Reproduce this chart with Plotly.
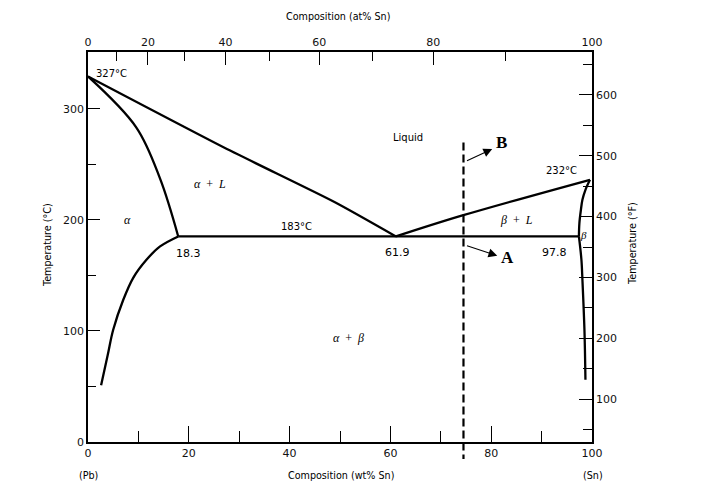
import plotly.graph_objects as go

# ---------------- data ----------------
# left liquidus (wt% Sn, °C)
liq_left_wt = [0, 28.1, 48.9, 61.1]
liq_left_T = [329, 262.5, 216, 185]
# right liquidus
liq_right_wt = [61.1, 74.3, 99.6]
liq_right_T = [185, 203.9, 236]
# alpha solidus
sol_a_wt = [0, 9.6, 14.3, 17.9]
sol_a_T = [329, 283, 237, 185]
# alpha solvus
svs_a_wt = [17.9, 14.3, 11.6, 9.0, 7.0, 5.0, 3.9, 2.6]
svs_a_T = [185, 176, 164, 148, 128, 101, 78, 51]
# eutectic isotherm
eut_wt = [17.9, 97.4]
eut_T = [185, 185]
# beta solidus
sol_b_wt = [99.6, 98.7, 98.1, 97.8, 97.5, 97.4]
sol_b_T = [236, 227, 218, 209, 197, 185]
# beta solvus
svs_b_wt = [97.4, 97.9, 98.1, 98.5, 98.7]
svs_b_T = [185, 164, 146, 101, 56]
# dashed composition line (wt% Sn, °C top/bottom)
dash_wt = 74.5
dash_T = [269.6, -15.3]
# arrows: (tail wt, tail T, head wt, head T)
arrow_B = [74.9, 252.5, 80.2, 263.7]
arrow_A = [74.9, 177.0, 81.2, 167.6]

# axes
y_range_C = [0, 351]
y_range_F = [29.3, 670.7]
x_range = [0, 100]
wt_major = [0, 20, 40, 60, 80, 100]
wt_minor = [10, 30, 50, 70, 90]
C_major = [0, 100, 200, 300]
C_minor = [50, 150, 250]
F_major = [100, 200, 300, 400, 500, 600]
F_minor = [50, 150, 250, 350, 450, 550, 650]
at_major_pos = [0, 11.9, 27.3, 45.9, 68.5, 100]
at_major_text = ["0", "20", "40", "60", "80", "100"]
at_minor_pos = [5.6, 19.1, 36.1, 56.5, 82.9]

# text labels: (text, wt, T, anchor, size, family)
labels = [
    ("327°C", 1.2, 331.5, "left", 10, "sans"),
    ("Liquid", 63.4, 274, "center", 10, "sans"),
    ("232°C", 93.9, 244, "center", 10, "sans"),
    ("183°C", 41.4, 193.7, "center", 10, "sans"),
    ("18.3", 20.0, 169.4, "center", 11, "sans"),
    ("61.9", 61.4, 170.3, "center", 11, "sans"),
    ("97.8", 92.5, 171.0, "center", 11, "sans"),
    ("<i>α</i>", 7.9, 200, "center", 12, "serif"),
    ("<i>α</i>&nbsp; +&nbsp; <i>L</i>", 24.2, 232.4, "center", 12, "serif"),
    ("<i>β</i>&nbsp; +&nbsp; <i>L</i>", 85.0, 200, "center", 12, "serif"),
    ("<i>α</i>&nbsp; +&nbsp; <i>β</i>", 51.7, 93.7, "center", 12, "serif"),
    ("<i>β</i>", 98.4, 186.5, "center", 11, "serif"),
    ("<b>B</b>", 82.0, 269.4, "center", 17, "serif"),
    ("<b>A</b>", 83.2, 165.8, "center", 17, "serif"),
]

SANS = "DejaVu Sans"
SERIF = "Liberation Serif"
LW = 2.3

fig = go.Figure()
line = dict(color="black", width=LW)
curve = dict(color="black", width=LW, shape="spline", smoothing=1.0)
gentle = dict(color="black", width=LW, shape="spline", smoothing=0.6)
fig.add_trace(go.Scatter(x=liq_left_wt, y=liq_left_T, mode="lines", line=gentle))
fig.add_trace(go.Scatter(x=liq_right_wt, y=liq_right_T, mode="lines", line=curve))
fig.add_trace(go.Scatter(x=sol_a_wt, y=sol_a_T, mode="lines", line=curve))
fig.add_trace(go.Scatter(x=svs_a_wt, y=svs_a_T, mode="lines", line=curve))
fig.add_trace(go.Scatter(x=eut_wt, y=eut_T, mode="lines", line=line))
fig.add_trace(go.Scatter(x=sol_b_wt, y=sol_b_T, mode="lines", line=curve))
fig.add_trace(go.Scatter(x=svs_b_wt, y=svs_b_T, mode="lines", line=curve))
# empty trace so that the secondary (at% / °F) axes are drawn
fig.add_trace(go.Scatter(x=[], y=[], mode="lines", xaxis="x2", yaxis="y2", hoverinfo="skip"))

# dashed line (extends below the axis) -> shape with x in data, y as plot fraction
def frac(T):
    return (T - y_range_C[0]) / (y_range_C[1] - y_range_C[0])

fig.add_shape(type="line", xref="x", yref="paper", x0=dash_wt, x1=dash_wt,
              y0=frac(dash_T[0]), y1=frac(dash_T[1]),
              line=dict(color="black", width=2.2, dash="8px,4px"))

for arr in (arrow_B, arrow_A):
    fig.add_annotation(x=arr[2], y=arr[3], ax=arr[0], ay=arr[1], axref="x", ayref="y",
                       xref="x", yref="y", text="", showarrow=True, arrowhead=2,
                       arrowsize=1.6, arrowwidth=1.1, arrowcolor="black", standoff=0, startstandoff=0)

for t, x, y, anc, size, fam in labels:
    fig.add_annotation(x=x, y=y, xref="x", yref="y", text=t, showarrow=False,
                       xanchor=anc, yanchor="middle",
                       font=dict(family=SANS if fam == "sans" else SERIF, size=size, color="black"))

# axis titles and end labels (paper coords)
def pa(text, x, y, angle=0, size=9.6):
    fig.add_annotation(x=x, y=y, xref="paper", yref="paper", text=text, showarrow=False,
                       xanchor="center", yanchor="middle", textangle=angle,
                       font=dict(family=SANS, size=size, color="black"))

pa("Temperature (°C)", -0.0813, 0.505, -90)
pa("Temperature (°F)", 1.079, 0.51, -90)
pa("Composition (at% Sn)", 0.496, 1.09)
pa("Composition (wt% Sn)", 0.502, -0.087)
pa("(Pb)", 0.001, -0.087)
pa("(Sn)", 1.001, -0.087)

ax_common = dict(showline=True, linecolor="black", linewidth=1.5, showgrid=False, zeroline=False,
                 ticks="inside", tickcolor="black", tickwidth=1.2,
                 tickfont=dict(family=SANS, size=11, color="#111"))

fig.update_layout(
    width=714, height=502,
    margin=dict(l=88, r=122, t=52, b=60),
    paper_bgcolor="white", plot_bgcolor="white",
    showlegend=False, hovermode=False,
    xaxis=dict(ax_common, range=x_range, tickmode="array", tickvals=wt_major,
               ticktext=[str(v) for v in wt_major], ticklen=16,
               minor=dict(tickmode="array", tickvals=wt_minor, ticklen=11, ticks="inside",
                          tickcolor="black", tickwidth=1.2, showgrid=False)),
    yaxis=dict(ax_common, range=y_range_C, tickmode="array", tickvals=C_major,
               ticktext=[str(v) for v in C_major], ticklen=12,
               minor=dict(tickmode="array", tickvals=C_minor, ticklen=8.5, ticks="inside",
                          tickcolor="black", tickwidth=1.2, showgrid=False)),
    xaxis2=dict(ax_common, range=x_range, overlaying="x", side="top", anchor="y2",
                tickmode="array", tickvals=at_major_pos, ticktext=at_major_text, ticklen=13,
                minor=dict(tickmode="array", tickvals=at_minor_pos, ticklen=9, ticks="inside",
                           tickcolor="black", tickwidth=1.2, showgrid=False)),
    yaxis2=dict(ax_common, range=y_range_F, overlaying="y", side="right", anchor="x2",
                tickmode="array", tickvals=F_major, ticktext=[str(v) for v in F_major], ticklen=13,
                minor=dict(tickmode="array", tickvals=F_minor, ticklen=9, ticks="inside",
                           tickcolor="black", tickwidth=1.2, showgrid=False)),
)

fig.write_html("out.html")
